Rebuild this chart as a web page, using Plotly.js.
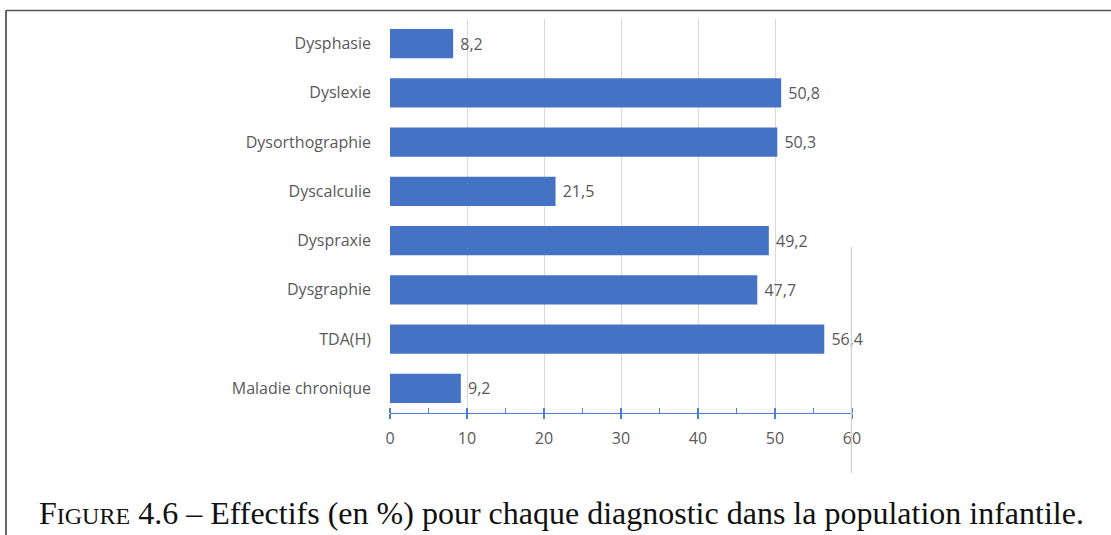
<!DOCTYPE html>
<html>
<head>
<meta charset="utf-8">
<script src="https://cdn.plot.ly/plotly-3.0.1.min.js"></script>
<style>
  html, body { margin: 0; padding: 0; background: #ffffff; }
  #chart { width: 1111px; height: 535px; }
</style>
</head>
<body>
<div id="chart"></div>
<script>
const categories = ["Dysphasie", "Dyslexie", "Dysorthographie", "Dyscalculie", "Dyspraxie", "Dysgraphie", "TDA(H)", "Maladie chronique"];
const values = [8.2, 50.8, 50.3, 21.5, 49.2, 47.7, 56.4, 9.2];
const xTickValues = [0, 10, 20, 30, 40, 50, 60];
const captionText = "F<span style=\"font-size:24px\">IGURE</span> 4.6 – Effectifs (en %) pour chaque diagnostic dans la population infantile.";

const labelColor = "#595959";
const barColor = "#4472C4";
const axisBlue = "#4F7FD4";

const trace = {
  type: "bar",
  orientation: "h",
  y: categories,
  x: values,
  marker: { color: barColor, line: { width: 0 } },
  texttemplate: "\u00a0%{x:.1f}",
  textposition: "outside",
  textfont: { family: "Open Sans, sans-serif", size: 16, color: labelColor },
  constraintext: "none",
  cliponaxis: false,
  hoverinfo: "skip"
};

const layout = {
  width: 1111,
  height: 535,
  margin: { l: 390, r: 259, t: 19, b: 122, pad: 0 },
  paper_bgcolor: "#ffffff",
  plot_bgcolor: "#ffffff",
  showlegend: false,
  separators: ", ",
  bargap: 0.41,
  font: { family: "Open Sans, sans-serif", color: labelColor, size: 16 },
  xaxis: {
    range: [0, 60],
    tickvals: xTickValues,
    ticktext: xTickValues.map(String),
    showgrid: true,
    gridcolor: "#D9D9D9",
    gridwidth: 1,
    zeroline: false,
    showline: true,
    linecolor: axisBlue,
    linewidth: 1.3,
    ticks: "outside",
    ticklen: 5,
    tickwidth: 1.3,
    tickcolor: axisBlue,
    ticklabelstandoff: 5,
    minor: {
      dtick: 5,
      tick0: 0,
      ticks: "inside",
      ticklen: 5,
      tickwidth: 1.3,
      tickcolor: axisBlue,
      showgrid: false
    },
    tickfont: { family: "Open Sans, sans-serif", size: 16, color: labelColor },
    fixedrange: true
  },
  yaxis: {
    autorange: "reversed",
    type: "category",
    showgrid: false,
    zeroline: false,
    showline: false,
    ticks: "",
    ticklabelstandoff: 18,
    tickfont: { family: "Open Sans, sans-serif", size: 16, color: labelColor },
    fixedrange: true
  },
  shapes: [
    { type: "line", xref: "paper", yref: "paper", x0: (6 - 390) / 462, x1: (1111 - 390) / 462, y0: 1 + (19 - 10.5) / 394, y1: 1 + (19 - 10.5) / 394, line: { color: "#555555", width: 1.5 } },
    { type: "line", xref: "paper", yref: "paper", x0: (6 - 390) / 462, x1: (6 - 390) / 462, y0: 1 + (19 - 10.5) / 394, y1: -(535 - 413) / 394, line: { color: "#333333", width: 1.5 } },
    { type: "line", xref: "x", yref: "paper", x0: 60, x1: 60, y0: (413 - 247) / 394, y1: -(473 - 413) / 394, line: { color: "#D2D2D2", width: 2.5 } }
  ],
  annotations: [
    {
      text: captionText,
      xref: "paper", yref: "paper",
      x: (561 - 390) / 462, y: -(513 - 413) / 394,
      xanchor: "center", yanchor: "middle",
      showarrow: false,
      font: { family: "Liberation Serif, serif", size: 32, color: "#111111" }
    }
  ]
};

Plotly.newPlot("chart", [trace], layout, { displayModeBar: false, staticPlot: true });
</script>
</body>
</html>
